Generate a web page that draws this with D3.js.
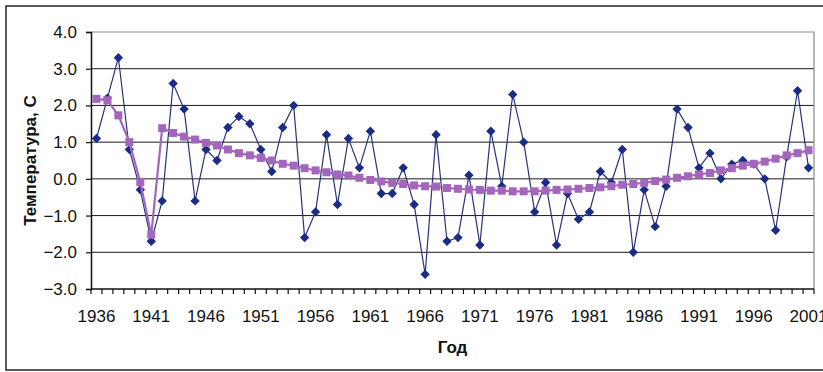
<!DOCTYPE html>
<html>
<head>
<meta charset="utf-8">
<script src="https://cdn.jsdelivr.net/npm/d3@7"></script>
<style>
  html, body { margin: 0; padding: 0; background: #fff; }
  svg { display: block; }
  text { font-family: "Liberation Sans", Arial, sans-serif; fill: #111; }
</style>
</head>
<body>
<svg id="chart" width="823" height="372"></svg>
<script>
// Annual temperature anomalies, 1936–2001
const years = d3.range(1936, 2002);
const temperature = [
  1.1, 2.2, 3.3, 0.8, -0.3, -1.7, -0.6, 2.6, 1.9, -0.6,
  0.8, 0.5, 1.4, 1.7, 1.5, 0.8, 0.2, 1.4, 2.0, -1.6,
  -0.9, 1.2, -0.7, 1.1, 0.3, 1.3, -0.4, -0.4, 0.3, -0.7,
  -2.6, 1.2, -1.7, -1.6, 0.1, -1.8, 1.3, -0.2, 2.3, 1.0,
  -0.9, -0.1, -1.8, -0.4, -1.1, -0.9, 0.2, -0.1, 0.8, -2.0,
  -0.3, -1.3, -0.2, 1.9, 1.4, 0.3, 0.7, 0.0, 0.4, 0.5,
  0.4, 0.0, -1.4, 0.6, 2.4, 0.3
];
// Smoothed trend
const trend = [
  2.18, 2.14, 1.73, 1.00, -0.09, -1.52, 1.38, 1.25, 1.15, 1.07,
  0.98, 0.91, 0.80, 0.70, 0.64, 0.57, 0.50, 0.41, 0.36, 0.29,
  0.23, 0.18, 0.12, 0.09, 0.03, -0.03, -0.07, -0.11, -0.14, -0.18,
  -0.20, -0.21, -0.25, -0.27, -0.29, -0.30, -0.32, -0.32, -0.34, -0.34,
  -0.34, -0.32, -0.30, -0.29, -0.27, -0.25, -0.23, -0.20, -0.16, -0.14,
  -0.11, -0.06, -0.02, 0.03, 0.07, 0.12, 0.16, 0.23, 0.29, 0.36,
  0.41, 0.47, 0.55, 0.64, 0.70, 0.78
];
const yTicks = [-3, -2, -1, 0, 1, 2, 3, 4];
const xLabelYears = years.filter(v => (v - 1936) % 5 === 0);

const svg = d3.select("#chart");
const plotLeft = 91, plotRight = 814, plotTop = 32, plotBottom = 289;

// Outer frame
svg.append("rect")
  .attr("x", 6).attr("y", 6).attr("width", 840).attr("height", 364)
  .attr("fill", "none").attr("stroke", "#222").attr("stroke-width", 1.5);

const x = d3.scaleBand().domain(years).range([plotLeft, plotRight]).paddingInner(0).paddingOuter(0);
const cx = d => x(d) + x.bandwidth() / 2;
const y = d3.scaleLinear().domain([-3, 4]).range([plotBottom, plotTop]);

// Horizontal gridlines
svg.append("g").selectAll("line")
  .data(yTicks.filter(t => t > -3 && t < 4))
  .join("line")
  .attr("x1", plotLeft).attr("x2", plotRight)
  .attr("y1", d => y(d)).attr("y2", d => y(d))
  .attr("stroke", "#1a1a1a").attr("stroke-width", 1);

// Plot-area border (top and right)
svg.append("path")
  .attr("d", `M${plotLeft},${y(4)}H${plotRight}V${plotBottom}`)
  .attr("fill", "none").attr("stroke", "#8a8a8a").attr("stroke-width", 1.2);

// Y axis
const yAxis = svg.append("g")
  .attr("transform", `translate(${plotLeft},0)`)
  .call(d3.axisLeft(y).tickValues(yTicks).tickSize(5).tickPadding(9)
    .tickFormat(d3.format(".1f")));
yAxis.select(".domain").attr("stroke", "#111").attr("stroke-width", 1.5);
yAxis.selectAll(".tick line").attr("stroke", "#111").attr("stroke-width", 1.2);
yAxis.selectAll("text")
  .attr("font-family", "Liberation Sans, Arial, sans-serif")
  .attr("font-size", 17).attr("fill", "#111");

// X axis: ticks at category boundaries
const xAxisG = svg.append("g").attr("transform", `translate(0,${plotBottom})`);
xAxisG.append("line")
  .attr("x1", plotLeft).attr("x2", plotRight).attr("y1", 0).attr("y2", 0)
  .attr("stroke", "#111").attr("stroke-width", 1.5);
xAxisG.selectAll("line.tk")
  .data(years.concat([null]))
  .join("line").attr("class", "tk")
  .attr("x1", (d, i) => plotLeft + i * x.bandwidth())
  .attr("x2", (d, i) => plotLeft + i * x.bandwidth())
  .attr("y1", 0).attr("y2", 5)
  .attr("stroke", "#111").attr("stroke-width", 1.2);
xAxisG.selectAll("text")
  .data(xLabelYears)
  .join("text")
  .attr("x", d => cx(d)).attr("y", 33)
  .attr("text-anchor", "middle")
  .attr("font-size", 17)
  .text(d => d);

// Axis titles
svg.append("text")
  .attr("transform", `translate(36,${(plotTop + plotBottom) / 2}) rotate(-90)`)
  .attr("text-anchor", "middle")
  .attr("font-size", 17).attr("font-weight", "bold")
  .text("Температура, С");
svg.append("text")
  .attr("x", (plotLeft + plotRight) / 2).attr("y", 353)
  .attr("text-anchor", "middle")
  .attr("font-size", 17).attr("font-weight", "bold")
  .text("Год");

// Temperature series: thin navy line with diamond markers
const line = d3.line().x((d, i) => cx(years[i])).y(d => y(d));
svg.append("path")
  .datum(temperature)
  .attr("d", line)
  .attr("fill", "none").attr("stroke", "#26337a").attr("stroke-width", 1.2);
svg.append("g").selectAll("path")
  .data(temperature)
  .join("path")
  .attr("d", d3.symbol(d3.symbolDiamond2, 56))
  .attr("transform", (d, i) => `translate(${cx(years[i])},${y(d)})`)
  .attr("fill", "#1c2c86");

// Trend: purple line with square markers
svg.append("path")
  .datum(trend)
  .attr("d", line)
  .attr("fill", "none").attr("stroke", "#a466bd").attr("stroke-width", 2.2);
svg.append("g").selectAll("rect")
  .data(trend)
  .join("rect")
  .attr("x", (d, i) => cx(years[i]) - 4)
  .attr("y", d => y(d) - 4)
  .attr("width", 8).attr("height", 8)
  .attr("fill", "#a466bd");
</script>
</body>
</html>
